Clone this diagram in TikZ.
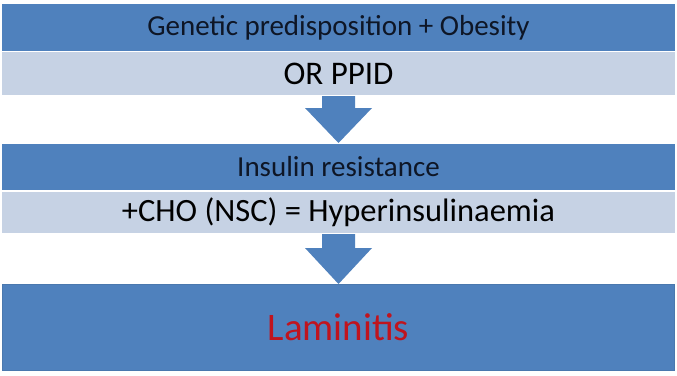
\documentclass[tikz,border=0pt]{standalone}
\usepackage{fontspec}
\setmainfont{Carlito}
\definecolor{darkbar}{HTML}{4F81BD}
\definecolor{lightbar}{HTML}{C6D2E4}
\definecolor{edgeblue}{HTML}{4A78AE}
\definecolor{redtext}{HTML}{C0141E}
\definecolor{darktext}{HTML}{0E1626}
\begin{document}
\begin{tikzpicture}[x=1pt,y=-1pt,
  darkbox/.style={fill=darkbar,draw=none},
  lightbox/.style={fill=lightbar,draw=none},
  downarrow/.style={fill=darkbar,draw=none},
  txt/.style={inner sep=0pt,anchor=center}]
\useasboundingbox (0,0) rectangle (677,375);
\fill[white] (0,0) rectangle (677,375);
% bars
\path[darkbox] (2,4) rectangle (675,51);
\path[lightbox] (2,52) rectangle (675,95);
\path[darkbox] (2,144) rectangle (675,190);
\path[lightbox] (2,192) rectangle (675,233);
\path[darkbox,draw=edgeblue,line width=0.8pt] (2,284) rectangle (674,370);
% arrows
\path[downarrow] (322,96) -- (355,96) -- (355,108) -- (372,108) -- (338.5,143) -- (305,108) -- (322,108) -- cycle;
\path[downarrow] (322,234) -- (355,234) -- (355,248) -- (372,248) -- (338.5,284) -- (305,248) -- (322,248) -- cycle;
% texts
\node[txt,text=darktext,font=\fontsize{29}{34}\selectfont] (t1) at (338.5,27.5) {Genetic predisposition + Obesity};
\node[txt,text=black,font=\fontsize{33}{38}\selectfont] (t2) at (338.5,74) {OR PPID};
\node[txt,text=darktext,font=\fontsize{29}{34}\selectfont] (t3) at (338.5,167) {Insulin resistance};
\node[txt,text=black,font=\fontsize{32.5}{38}\selectfont] (t4) at (338.5,212.5) {+CHO (NSC) = Hyperinsulinaemia};
\node[txt,text=redtext,font=\fontsize{39}{45}\selectfont] (t5) at (338.5,327) {Laminitis};
\end{tikzpicture}
\end{document}
